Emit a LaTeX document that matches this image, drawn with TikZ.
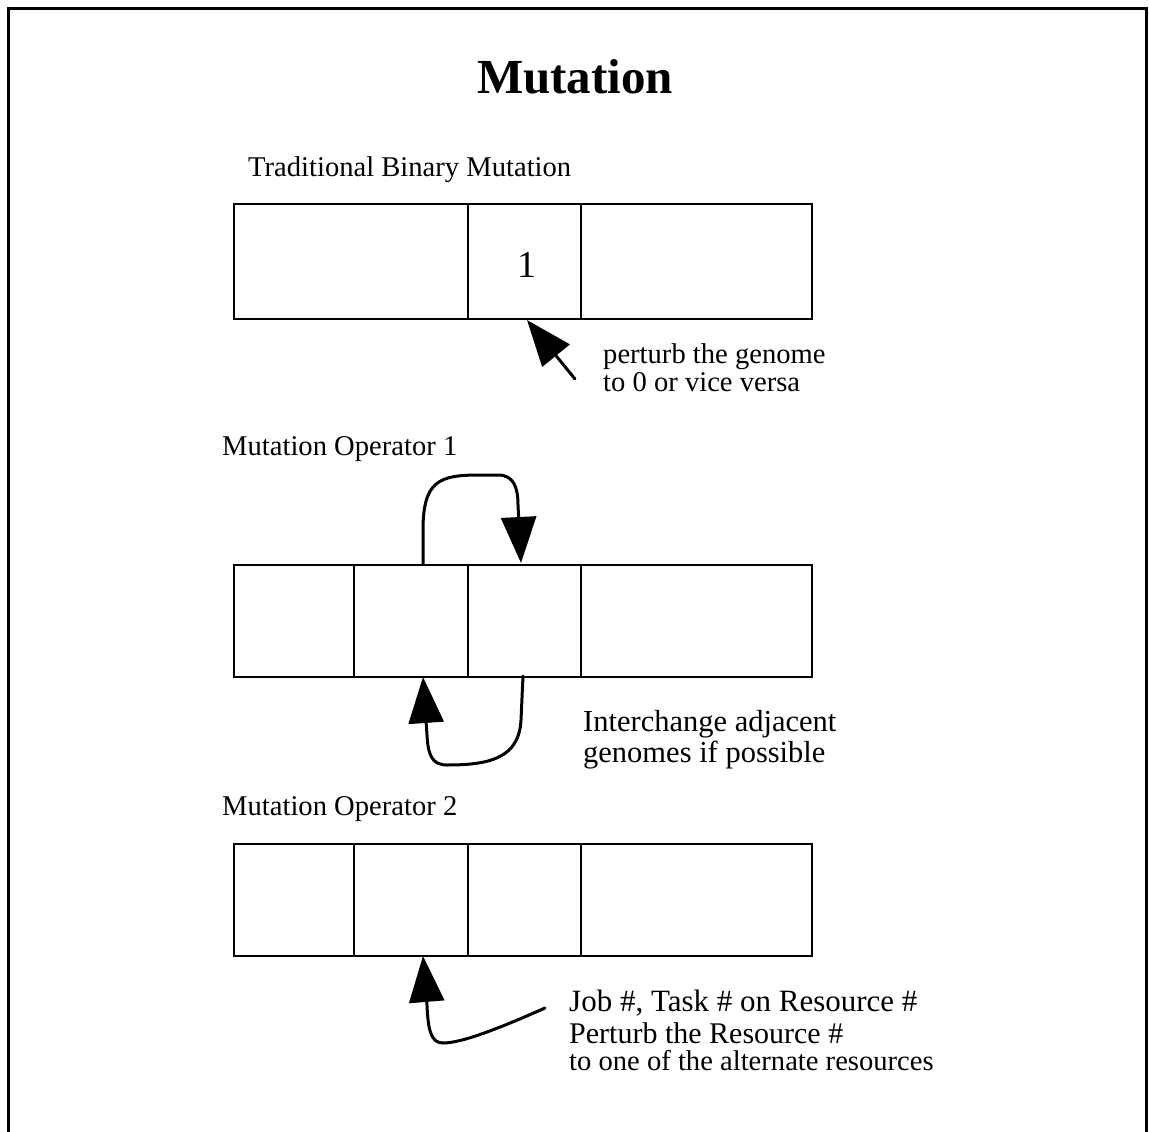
\documentclass[tikz,border=0pt]{standalone}
\usepackage{fontspec}
\setmainfont{Liberation Serif}
\usetikzlibrary{arrows.meta}
\begin{document}
\begin{tikzpicture}[x=1pt,y=-1pt,
  cell/.style={draw, line width=2.4pt, inner sep=0pt, anchor=north west},
  lbl/.style={anchor=base west, inner sep=0pt, font=\fontsize{28.6}{29}\selectfont},
  bigtip/.style={-{Triangle[length=46pt,width=35pt]}},
  link/.style={line width=3pt, bigtip, line cap=round, line join=round}]
  \useasboundingbox (0,0) rectangle (1149,1132);
  % outer frame (open at the bottom)
  \draw[line width=3pt] (8,1140) -- (8,9) -- (1146,9) -- (1146,1140);
  % title
  \node[anchor=base, inner sep=0pt, font=\fontsize{49}{49}\selectfont\bfseries] (title) at (575,93) {Mutation};

  % traditional binary mutation
  \node[lbl] (t1) at (248,176) {Traditional Binary Mutation};
  \node[cell, minimum width=234pt, minimum height=115pt] (a1) at (233,203) {};
  \node[cell, minimum width=113pt, minimum height=115pt] (a2) at (467,203) {};
  \node[cell, minimum width=231pt, minimum height=115pt] (a3) at (580,203) {};
  \node[anchor=base, inner sep=0pt, font=\fontsize{38}{38}\selectfont] (one) at (527,277) {1};
  \coordinate (a2tip) at (527,320);
  \coordinate (a2tail) at (575,379);
  \draw[link] (a2tail) -- (a2tip);
  \node[lbl] (p1) at (603,363) {perturb the genome};
  \node[lbl] (p2) at (603,391) {to 0 or vice versa};

  % mutation operator 1
  \node[lbl] (t2) at (222,455) {Mutation Operator 1};
  \node[cell, minimum width=120pt, minimum height=112pt] (b1) at (233,564) {};
  \node[cell, minimum width=114pt, minimum height=112pt] (b2) at (353,564) {};
  \node[cell, minimum width=113pt, minimum height=112pt] (b3) at (467,564) {};
  \node[cell, minimum width=231pt, minimum height=112pt] (b4) at (580,564) {};
  \coordinate (b2top) at (423,564);
  \coordinate (b3top) at (521,563);
  \coordinate (b3bot) at (523,676);
  \coordinate (b2bot) at (423,677);
  \draw[link] (b2top) -- (423,530) .. controls (423,480) and (440,475) .. (480,475)
    -- (498,475) .. controls (514,475) and (518,488) .. (518,505) -- (b3top);
  \draw[link] (b3bot) -- (521,720) .. controls (519,758) and (490,765) .. (447,765)
    .. controls (432,765) and (428,755) .. (427,735) -- (b2bot);
  \node[lbl, font=\fontsize{30.5}{30}\selectfont] (i1) at (583,731) {Interchange adjacent};
  \node[lbl, font=\fontsize{30.5}{30}\selectfont] (i2) at (583,762) {genomes if possible};

  % mutation operator 2
  \node[lbl] (t3) at (222,815) {Mutation Operator 2};
  \node[cell, minimum width=120pt, minimum height=112pt] (c1) at (233,843) {};
  \node[cell, minimum width=114pt, minimum height=112pt] (c2) at (353,843) {};
  \node[cell, minimum width=113pt, minimum height=112pt] (c3) at (467,843) {};
  \node[cell, minimum width=231pt, minimum height=112pt] (c4) at (580,843) {};
  \coordinate (c2bot) at (423,956);
  \coordinate (c2tail) at (545,1008);
  \draw[link] (c2tail) .. controls (500,1028) and (462,1043) .. (443,1043)
    .. controls (431,1043) and (428,1030) .. (427,1005) -- (c2bot);
  \node[lbl, font=\fontsize{31}{31}\selectfont] (j1) at (569,1011) {Job \#, Task \# on Resource \#};
  \node[lbl, font=\fontsize{30}{30}\selectfont] (j2) at (569,1043) {Perturb the Resource \#};
  \node[lbl] (j3) at (569,1070) {to one of the alternate resources};
\end{tikzpicture}
\end{document}
